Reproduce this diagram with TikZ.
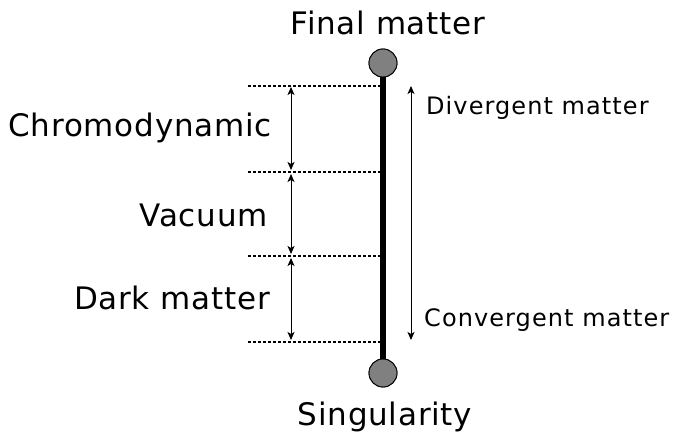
\documentclass[tikz,border=0pt]{standalone}
\usepackage{fontspec}
\setmainfont{DejaVu Sans}
\newfontfamily\bigfam[LetterSpace=2.5]{DejaVu Sans}
\newfontfamily\smallfam[LetterSpace=4.5]{DejaVu Sans}
\usetikzlibrary{arrows.meta}
\begin{document}
\begin{tikzpicture}[x=1pt,y=-1pt,
  big/.style={font=\bigfam\fontsize{31}{36}\selectfont, inner sep=0pt},
  small/.style={font=\smallfam\fontsize{24}{28}\selectfont, inner sep=0pt},
  level/.style={black, line width=1.1pt, dash pattern=on 3pt off 2pt},
  span/.style={black, line width=1pt, {Stealth[length=8pt,width=7pt,inset=2pt]}-{Stealth[length=8pt,width=7pt,inset=2pt]}},
  ball/.style={circle, draw=black, line width=0.9pt, fill=black!50, minimum size=28pt, inner sep=0pt}]
\useasboundingbox (0,0) rectangle (678,438);
% levels
\coordinate (l1a) at (248,86);  \coordinate (l1b) at (383,86);
\coordinate (l2a) at (248,172); \coordinate (l2b) at (383,172);
\coordinate (l3a) at (248,256); \coordinate (l3b) at (383,256);
\coordinate (l4a) at (248,342); \coordinate (l4b) at (383,342);
\draw[level] (l1a) -- (l1b);
\draw[level] (l2a) -- (l2b);
\draw[level] (l3a) -- (l3b);
\draw[level] (l4a) -- (l4b);
% span arrows
\coordinate (s1a) at (291,87);  \coordinate (s1b) at (291,170);
\coordinate (s2a) at (291,174); \coordinate (s2b) at (291,254);
\coordinate (s3a) at (291,258); \coordinate (s3b) at (291,340);
\draw[span] (s1a) -- (s1b);
\draw[span] (s2a) -- (s2b);
\draw[span] (s3a) -- (s3b);
% axis
\node[ball] (top) at (383,63) {};
\node[ball] (bot) at (383,373) {};
\draw[line width=6.5pt] (top.south) -- (bot.north);
\node[ball] at (383,63) {};
\node[ball] at (383,373) {};
% right arrow
\coordinate (ra) at (411,86); \coordinate (rb) at (411,340);
\draw[span] (ra) -- (rb);
% labels
\node[big, anchor=base] (fm) at (388,35) {Final matter};
\node[big, anchor=base] (sg) at (385,426) {Singularity};
\node[big, anchor=base east] (ch) at (272,137) {Chromodynamic};
\node[big, anchor=base east] (va) at (268,227) {Vacuum};
\node[big, anchor=base east] (dm) at (270,310) {Dark matter};
\node[small, anchor=base west] (dv) at (426,115) {Divergent matter};
\node[small, anchor=base west] (cv) at (424,327) {Convergent matter};
\end{tikzpicture}
\end{document}
